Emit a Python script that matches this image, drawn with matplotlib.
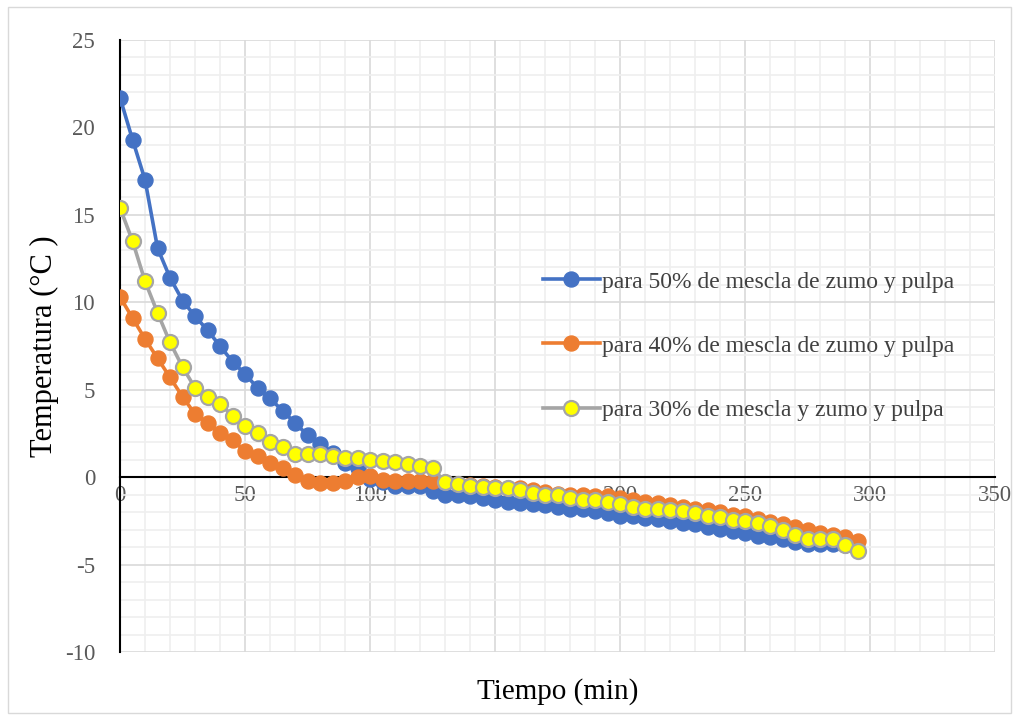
import matplotlib
matplotlib.use('Agg')
import matplotlib.pyplot as plt
from matplotlib.patches import Rectangle
from matplotlib.ticker import MultipleLocator

plt.rcParams['font.family'] = ['Liberation Serif', 'DejaVu Serif']
plt.rcParams['axes.unicode_minus'] = False

# tiempo en minutos (lecturas cada 5 min)
tiempo = list(range(0, 300, 5))

temp_50 = [21.7, 19.3, 17.0, 13.1, 11.4, 10.1, 9.2, 8.4, 7.5, 6.6,
           5.9, 5.1, 4.5, 3.8, 3.1, 2.4, 1.9, 1.4, 0.8, 0.5,
           -0.1, -0.3, -0.5, -0.5, -0.5, -0.8, -1.0, -1.0, -1.1, -1.2,
           -1.3, -1.4, -1.5, -1.55, -1.6, -1.7, -1.8, -1.85, -1.95, -2.05,
           -2.2, -2.25, -2.35, -2.4, -2.5, -2.6, -2.7, -2.85, -2.95, -3.1,
           -3.2, -3.35, -3.45, -3.55, -3.7, -3.8, -3.8, -3.85, -3.9]

temp_40 = [10.3, 9.1, 7.9, 6.8, 5.7, 4.6, 3.6, 3.1, 2.5, 2.1,
           1.5, 1.2, 0.8, 0.5, 0.1, -0.2, -0.35, -0.35, -0.25, 0.0,
           0.05, -0.15, -0.2, -0.2, -0.25, -0.25, -0.3, -0.4, -0.45, -0.5,
           -0.55, -0.6, -0.65, -0.75, -0.85, -0.95, -1.0, -1.05, -1.1, -1.1,
           -1.2, -1.3, -1.4, -1.5, -1.6, -1.7, -1.8, -1.9, -2.0, -2.15,
           -2.25, -2.4, -2.55, -2.7, -2.85, -3.0, -3.2, -3.3, -3.45, -3.65]

temp_30 = [15.4, 13.5, 11.2, 9.4, 7.7, 6.3, 5.1, 4.6, 4.2, 3.5,
           2.9, 2.5, 2.0, 1.7, 1.3, 1.3, 1.3, 1.2, 1.1, 1.1,
           1.0, 0.9, 0.85, 0.75, 0.65, 0.55, -0.3, -0.4, -0.5, -0.55,
           -0.6, -0.65, -0.75, -0.9, -1.0, -1.05, -1.2, -1.3, -1.3, -1.4,
           -1.55, -1.7, -1.8, -1.85, -1.9, -1.95, -2.05, -2.2, -2.3, -2.45,
           -2.5, -2.6, -2.8, -3.0, -3.3, -3.55, -3.55, -3.55, -3.9, -4.2]

etiquetas = ['para 50% de mescla de zumo y pulpa',
             'para 40% de mescla de zumo y pulpa',
             'para 30% de mescla y zumo y pulpa']

fig = plt.figure(figsize=(10.19, 7.19), dpi=100)
ax = fig.add_axes([0.1178, 0.0932, 0.8587, 0.8512])

fig.patches.append(Rectangle((0.008, 0.009), 0.984, 0.981, transform=fig.transFigure,
                             fill=False, edgecolor='#d9d9d9', linewidth=1))

ax.plot(tiempo[:len(temp_50)], temp_50, color='#4472C4', lw=2.6, marker='o', ms=10.8,
        mfc='#4472C4', mec='#4472C4', label=etiquetas[0], zorder=3)
ax.plot(tiempo, temp_40, color='#ED7D31', lw=2.6, marker='o', ms=10.8,
        mfc='#ED7D31', mec='#ED7D31', label=etiquetas[1], zorder=4)
ax.plot(tiempo, temp_30, color='#A5A5A5', lw=2.6, marker='o', ms=10.8,
        mfc='#FFFF00', mec='#A5A5A5', mew=1.6, label=etiquetas[2], zorder=5)

ax.set_xlim(0, 350)
ax.set_ylim(-10, 25)
ax.xaxis.set_major_locator(MultipleLocator(50))
ax.xaxis.set_minor_locator(MultipleLocator(10))
ax.yaxis.set_major_locator(MultipleLocator(5))
ax.yaxis.set_minor_locator(MultipleLocator(1))
ax.grid(which='major', color='#d9d9d9', lw=1.2)
ax.grid(which='minor', color='#efefef', lw=1.2)
ax.set_axisbelow(True)

for s in ['top', 'right']:
    ax.spines[s].set_visible(False)
ax.spines['bottom'].set_position(('data', 0))
ax.spines['bottom'].set_color('black')
ax.spines['bottom'].set_linewidth(1.5)
ax.spines['left'].set_color('black')
ax.spines['left'].set_linewidth(1.5)
ax.tick_params(which='both', length=0)
ax.tick_params(axis='both', labelsize=16.5, labelcolor='#595959')
ax.tick_params(axis='y', pad=18)
ax.tick_params(axis='x', pad=6)

ax.set_xlabel('Tiempo (min)', fontsize=21, labelpad=0)
ax.xaxis.set_label_coords(0.5, -0.043)
ax.set_ylabel('Temperatura (°C )', fontsize=22)
ax.yaxis.set_label_coords(-0.07, 0.5)

leg = ax.legend(loc='center left', bbox_to_anchor=(0.459, 0.5), frameon=False,
                fontsize=17, labelcolor='#404040', handlelength=2.4,
                handletextpad=0.1, labelspacing=1.8)

fig.savefig('out.png', dpi=100)
